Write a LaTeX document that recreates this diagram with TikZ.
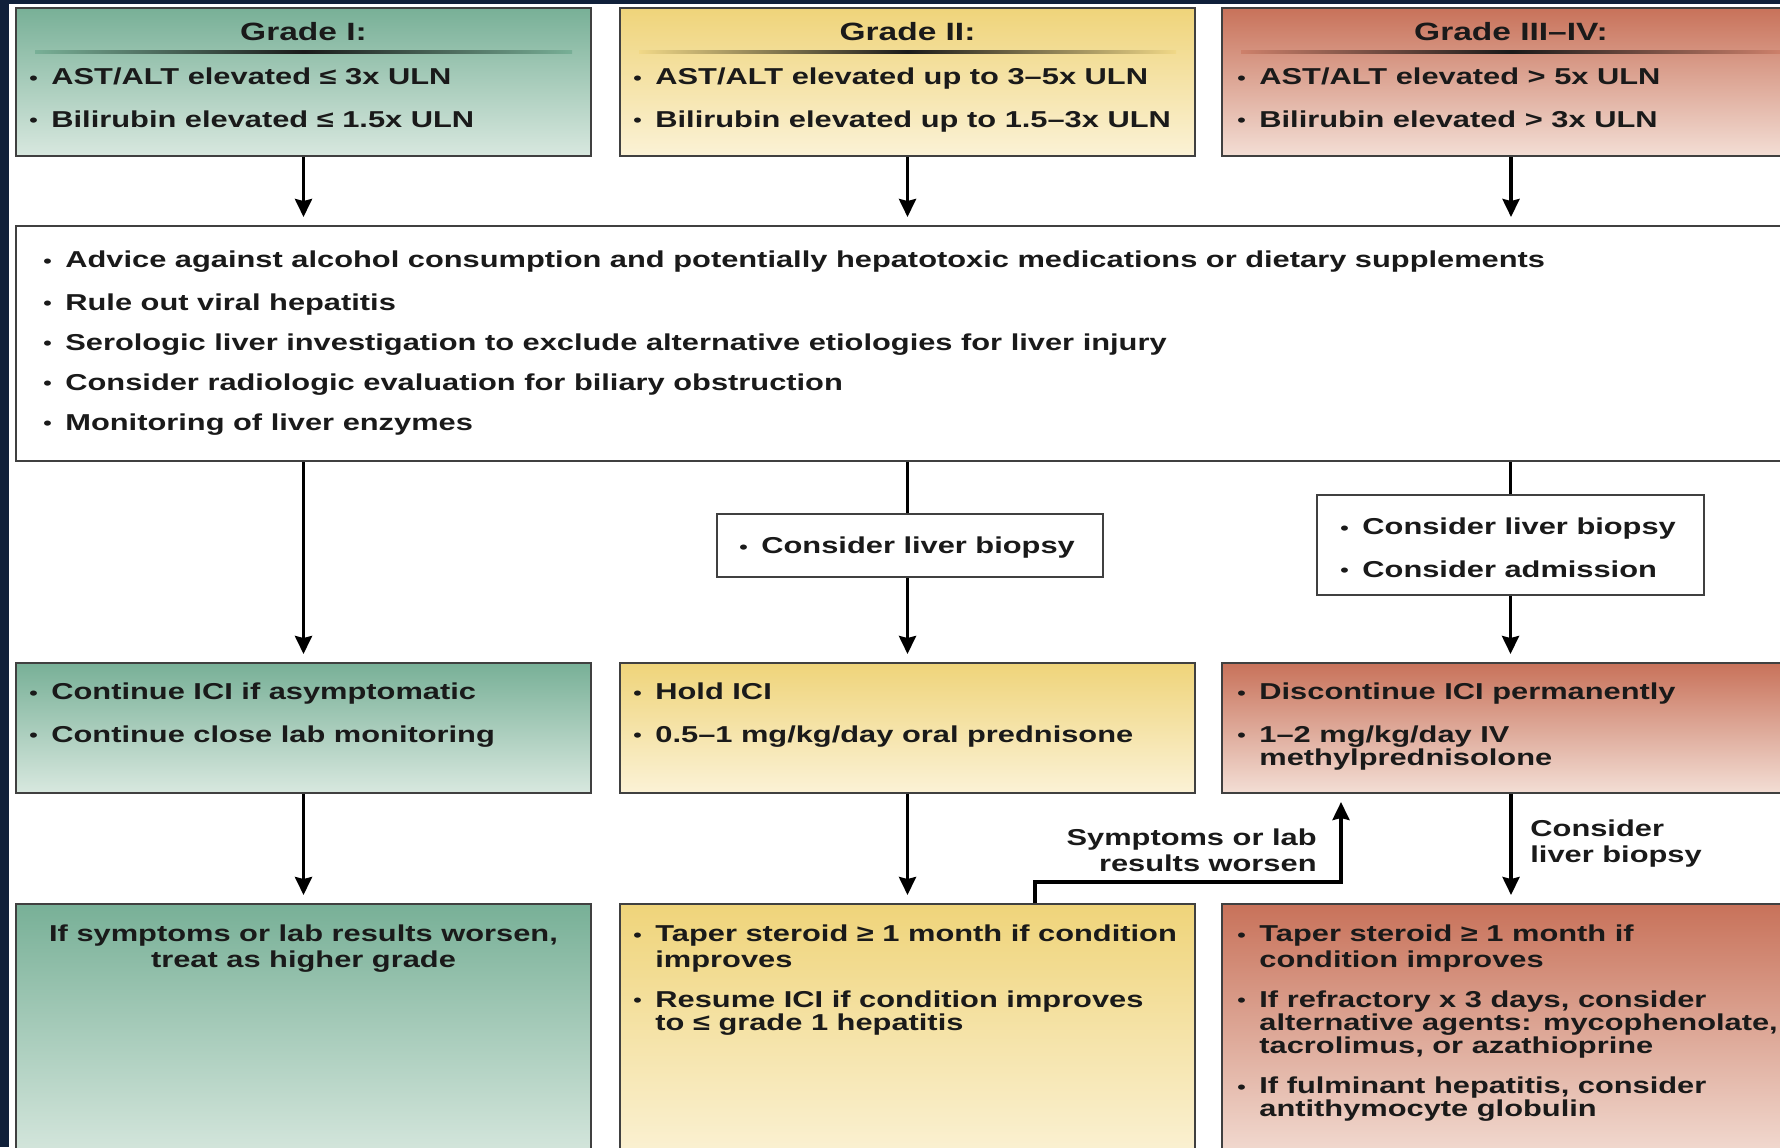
\documentclass[tikz,border=0pt]{standalone}
\usepackage{fontspec}
\setmainfont{Liberation Sans}[FakeStretch=1.34]
\usetikzlibrary{arrows.meta,calc}
\definecolor{navy}{HTML}{10203A}
\definecolor{gtop}{HTML}{78B097}
\definecolor{gbot}{HTML}{D8E8DF}
\definecolor{ytop}{HTML}{EFD47A}
\definecolor{ybot}{HTML}{FBF2D6}
\definecolor{rtop}{HTML}{C8725A}
\definecolor{rbot}{HTML}{F3DED5}
\definecolor{edge}{HTML}{404040}
\definecolor{ink}{HTML}{1A1A1A}
\newcommand\bu{\makebox[11pt][l]{\raisebox{0.2pt}{\scalebox{0.78}{•}}}}
\newcommand\ind{\hspace*{11pt}}
\newcommand\gap{8.4pt}
\tikzset{
  box/.style={draw=edge, line width=1pt, inner sep=0pt, anchor=north west},
  gbox/.style={box, top color=gtop, bottom color=gbot},
  ybox/.style={box, top color=ytop, bottom color=ybot},
  rbox/.style={box, top color=rtop, bottom color=rbot},
  wbox/.style={box, fill=white},
  txt/.style={inner sep=0pt, anchor=north west, align=left, text=ink,
    font=\fontsize{11.5}{11.6}\selectfont\bfseries},
  head/.style={inner sep=0pt, anchor=center, text=ink,
    font=\fontsize{12.5}{13}\selectfont\bfseries},
  arr/.style={line width=1.7pt, draw=black, -{Stealth[length=9pt,width=8.5pt,inset=1pt]}, shorten >=4pt},
  ln/.style={line width=1.7pt, draw=black},
  top/.style={minimum width=287.5pt, minimum height=74pt},
  mid/.style={minimum width=287.5pt, minimum height=65pt},
  bot/.style={minimum width=287.5pt, minimum height=130pt},
}
\begin{document}
\begin{tikzpicture}[x=0.5pt,y=-0.5pt]
\useasboundingbox (0,0) rectangle (1780,1147);
\clip (0,0) rectangle (1780,1147);
\fill[white] (0,0) rectangle (1780,1147);
\fill[navy] (0,0) rectangle (9,1147);
\fill[navy] (0,0) rectangle (1780,4);

% top row
\node[gbox, top] (g1) at (15,7) {};
\node[ybox, top] (g2) at (619,7) {};
\node[rbox, top, minimum width=289pt] (g3) at (1221,7) {};
\shade[left color=gtop, right color=gtop, middle color=black!90] ($(g1.north west)+(20,43)$) rectangle ($(g1.north east)+(-20,46.5)$);
\shade[left color=ytop!90!white, right color=ytop!90!white, middle color=black!90] ($(g2.north west)+(20,43)$) rectangle ($(g2.north east)+(-20,46.5)$);
\shade[left color=rtop!90!white, right color=rtop!90!white, middle color=black!90] ($(g3.north west)+(20,43)$) rectangle ($(g3.north east)+(-20,46.5)$);
\node[head] (h1) at ($(g1.north)+(0,25)$) {Grade I:};
\node[head] (h2) at ($(g2.north)+(0,25)$) {Grade II:};
\node[head] (h3) at ($(g3.north)+(0,25)$) {Grade III–IV:};
\node[txt] (t1) at ($(g1.north west)+(14,60.5)$) {\strut\bu AST/ALT elevated ≤ 3x ULN\\[\gap]\bu Bilirubin elevated ≤ 1.5x ULN};
\node[txt] (t2) at ($(g2.north west)+(14,60.5)$) {\strut\bu AST/ALT elevated up to 3–5x ULN\\[\gap]\bu Bilirubin elevated up to 1.5–3x ULN};
\node[txt] (t3) at ($(g3.north west)+(16,60.5)$) {\strut\bu AST/ALT elevated > 5x ULN\\[\gap]\bu Bilirubin elevated > 3x ULN};

% advice box
\node[wbox, minimum width=895pt, minimum height=117.5pt] (adv) at (15,225) {};
\node[txt] (advt) at ($(adv.north west)+(28,25.5)$) {\strut\bu Advice against alcohol consumption and potentially hepatotoxic medications or dietary supplements\\[\gap]
\bu Rule out viral hepatitis\\[\gap]
\bu Serologic liver investigation to exclude alternative etiologies for liver injury\\[\gap]
\bu Consider radiologic evaluation for biliary obstruction\\[\gap]
\bu Monitoring of liver enzymes};

% intermediate boxes
\node[wbox, minimum width=193pt, minimum height=31.5pt] (b2) at (716,513) {};
\node[txt] (b2t) at ($(b2.north west)+(23,23.5)$) {\strut\bu Consider liver biopsy};
\node[wbox, minimum width=193.5pt, minimum height=50pt] (b3) at (1316,494) {};
\node[txt] (b3t) at ($(b3.north west)+(24,23.5)$) {\strut\bu Consider liver biopsy\\[\gap]\bu Consider admission};

% third row
\node[gbox, mid] (m1) at (15,662) {};
\node[ybox, mid] (m2) at (619,662) {};
\node[rbox, mid, minimum width=289pt] (m3) at (1221,662) {};
\node[txt] (m1t) at ($(m1.north west)+(14,20.5)$) {\strut\bu Continue ICI if asymptomatic\\[\gap]\bu Continue close lab monitoring};
\node[txt] (m2t) at ($(m2.north west)+(14,20.5)$) {\strut\bu Hold ICI\\[\gap]\bu 0.5–1 mg/kg/day oral prednisone};
\node[txt] (m3t) at ($(m3.north west)+(16,20.5)$) {\strut\bu Discontinue ICI permanently\\[\gap]\bu 1–2 mg/kg/day IV\\\ind methylprednisolone};

% bottom row
\node[gbox, bot] (l1) at (15,903) {};
\node[ybox, bot] (l2) at (619,903) {};
\node[rbox, bot, minimum width=289pt] (l3) at (1221,903) {};
\node[txt, anchor=north, align=center] (l1t) at ($(l1.north)+(0,21.5)$) {\strut If symptoms or lab results worsen,\\treat as higher grade};
\node[txt] (l2t) at ($(l2.north west)+(14,21.5)$) {\strut\bu Taper steroid ≥ 1 month if condition\\\ind improves\\[\gap]\bu Resume ICI if condition improves\\\ind to ≤ grade 1 hepatitis};
\node[txt] (l3t) at ($(l3.north west)+(16,21.5)$) {\strut\bu Taper steroid ≥ 1 month if\\\ind condition improves\\[\gap]\bu If refractory x 3 days, consider\\\ind alternative agents: mycophenolate,\\\ind tacrolimus, or azathioprine\\[\gap]\bu If fulminant hepatitis, consider\\\ind antithymocyte globulin};

% connectors
\draw[arr] (g1.south) -- (g1.south |- adv.north);
\draw[arr] (g2.south) -- (g2.south |- adv.north);
\draw[arr] (g3.south) -- (g3.south |- adv.north);
\draw[arr] (m1.north |- adv.south) -- (m1.north);
\draw[ln] (g2.south |- adv.south) -- (g2.south |- b2.north);
\draw[arr] (g2.south |- b2.south) -- (m2.north);
\draw[ln] (b3.north |- adv.south) -- (b3.north);
\draw[arr] (b3.south) -- (b3.south |- m3.north);
\draw[arr] (m1.south) -- (l1.north);
\draw[arr] (m2.south) -- (l2.north);
\draw[arr] (m3.south) -- (l3.north);
\coordinate (fbs) at ($(l2.north west)+(416,0)$);
\coordinate (fbc) at (1341,882);
\draw[arr] (fbs) |- (fbc) -- (fbc |- m3.south);

% labels
\node[txt, anchor=north east, align=right] (lbw) at (1317,828.5) {\strut Symptoms or lab\\results worsen};
\node[txt] (lbb) at (1530,819.5) {\strut Consider\\liver biopsy};
\end{tikzpicture}
\end{document}
